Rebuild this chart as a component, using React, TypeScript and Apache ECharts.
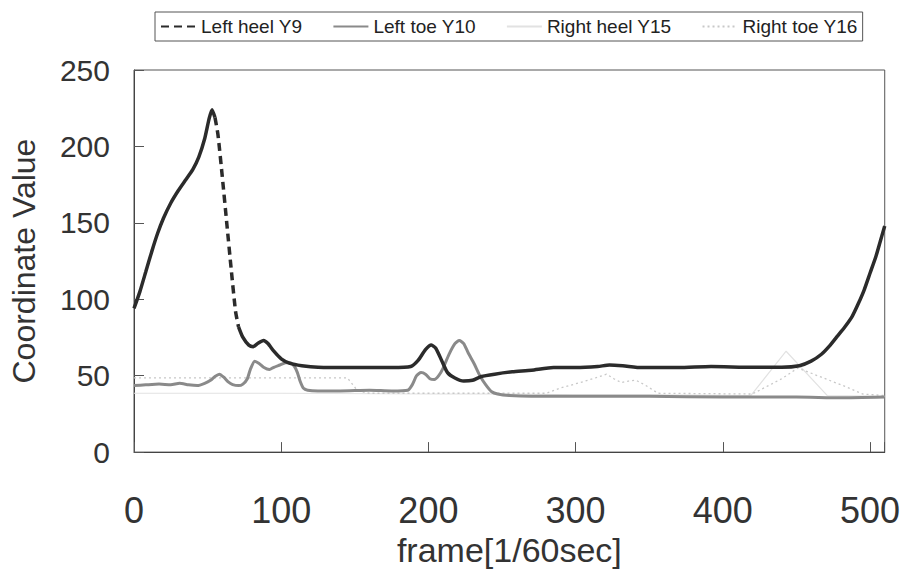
import React, { useEffect, useRef } from "react";
import * as echarts from "echarts";

const seriesNames = ["Left heel Y9", "Left toe Y10", "Right heel Y15", "Right toe Y16"];
const xTicks = [0, 100, 200, 300, 400, 500];
const yTicks = [0, 50, 100, 150, 200, 250];

// Left heel Y9: [frame, value]
const leftHeelY9: [number, number][] = [
  [0, 94], [4, 105], [8, 118], [12, 131], [16, 143], [20, 153], [25, 163], [30, 171], [35, 178],
  [40, 185], [44, 193], [48, 205], [51, 218], [53, 224], [55, 219], [57, 208], [60, 180], [63, 150],
  [66, 120], [69, 92], [71, 82], [74, 75], [78, 70], [81, 69], [84, 71], [88, 73], [91, 71], [95, 66],
  [100, 61], [106, 58], [114, 56.5], [125, 55.5], [150, 55.3], [175, 55.3], [188, 56], [193, 60],
  [198, 67], [202, 70], [205, 68], [209, 60], [213, 52], [218, 48.5], [224, 46.5], [230, 47],
  [236, 49.5], [245, 51], [257, 52.5], [270, 53.5], [285, 55.3], [300, 55.3], [315, 56], [323, 57],
  [332, 56.5], [345, 55.3], [370, 55.3], [392, 56], [420, 55.5], [440, 55.5], [452, 56.5], [460, 59.5],
  [467, 64], [473, 70], [478, 76], [483, 82], [488, 89], [492, 97], [496, 106], [500, 117], [504, 128],
  [507, 138], [510, 148],
];
// frames of the dashed (fast-drop) part of Left heel Y9
const heelDashFrom = 55;
const heelDashTo = 71;

const leftToeY10: [number, number][] = [
  [0, 43.5], [8, 44], [17, 44.5], [25, 44], [31, 45], [37, 44], [43, 43.5], [48, 45], [52, 47],
  [55, 49.5], [58, 51], [61, 49], [64, 46], [67, 44.2], [71, 43.5], [74, 44.5], [77, 48], [79, 54],
  [82, 59.5], [85, 58], [88, 55.5], [92, 54], [95, 55.5], [99, 57], [103, 58.5], [106, 58.5],
  [109, 56], [111, 52], [113, 46], [115, 42], [118, 40.5], [125, 40], [140, 40], [160, 40.5],
  [175, 40], [186, 40.5], [189, 44], [192, 50], [195, 52], [198, 51], [201, 48], [204, 47.5],
  [207, 50], [210, 55], [214, 64], [218, 71], [221, 73], [224, 71], [227, 65], [231, 58], [235, 50],
  [239, 44], [243, 39.5], [247, 38], [255, 37], [270, 36.5], [300, 36.5], [350, 36.5], [400, 36],
  [450, 36], [480, 35.5], [510, 36],
];

const rightHeelY15: [number, number][] = [
  [0, 38.5], [100, 38.5], [200, 38], [260, 38], [300, 37.5], [350, 37.5], [419, 37], [443, 66],
  [471, 37], [510, 36.5],
];

const rightToeY16: [number, number][] = [
  [0, 48.5], [40, 48.5], [80, 48.5], [120, 48.5], [145, 48.5], [152, 40], [160, 38.5], [280, 38.5],
  [290, 42], [305, 46], [315, 49], [321, 51], [326, 48], [331, 45.5], [336, 46.5], [341, 47],
  [347, 44], [356, 38.5], [420, 38], [440, 48], [451, 55], [467, 49], [483, 43], [495, 38], [510, 37],
];

const SANS = "'Liberation Sans', Arial, sans-serif";

export default function App() {
  const ref = useRef<HTMLDivElement>(null);
  useEffect(() => {
    if (!ref.current) return;
    const chart = echarts.init(ref.current, null, { renderer: "svg" });

    const heelSolid = leftHeelY9.map(([f, v]) =>
      f > heelDashFrom && f < heelDashTo ? [f, null] : [f, v]
    );
    const heelDashed = leftHeelY9.filter(([f]) => f >= heelDashFrom && f <= heelDashTo);

    chart.setOption({
      animation: false,
      backgroundColor: "#ffffff",
      grid: {
        left: 132,
        right: 17,
        top: 70,
        bottom: 113,
        show: true,
        borderColor: "#555",
        borderWidth: 1,
      },
      legend: {
        data: seriesNames,
        left: 155,
        top: 12,
        padding: [5, 5, 5, 5],
        borderColor: "#555",
        borderWidth: 1,
        itemWidth: 35,
        itemHeight: 12,
        itemGap: 30,
        itemStyle: { color: "transparent", borderWidth: 0, opacity: 0 },
        textStyle: { fontSize: 19, color: "#222", fontFamily: SANS },
      },
      xAxis: {
        type: "value",
        min: 0,
        max: 510,
        interval: 100,
        name: "frame[1/60sec]",
        nameLocation: "middle",
        nameGap: 80,
        nameTextStyle: { fontSize: 34, color: "#333", fontFamily: SANS },
        axisLine: { show: true, lineStyle: { color: "#444", width: 1 } },
        axisTick: { show: true, inside: true, length: 10, lineStyle: { color: "#555" } },
        axisLabel: {
          fontSize: 36,
          color: "#333",
          margin: 40,
          fontFamily: SANS,
          customValues: xTicks,
        },
        splitLine: { show: false },
      },
      yAxis: {
        type: "value",
        min: 0,
        max: 250,
        interval: 50,
        name: "Coordinate Value",
        nameLocation: "middle",
        nameGap: 94,
        nameTextStyle: { fontSize: 32, color: "#333", fontFamily: SANS },
        axisLine: { show: true, lineStyle: { color: "#444", width: 1 } },
        axisTick: { show: true, inside: true, length: 10, lineStyle: { color: "#555" } },
        axisLabel: {
          fontSize: 30,
          color: "#333",
          margin: 24,
          fontFamily: SANS,
          customValues: yTicks,
        },
        splitLine: { show: false },
      },
      series: [
        {
          name: seriesNames[0],
          type: "line",
          data: heelDashed,
          showSymbol: false,
          symbol: "none",
          smooth: 0.2,
          lineStyle: { color: "#2b2b2b", width: 3.5, type: [8, 5] },
          itemStyle: { color: "#2b2b2b" },
          z: 5,
        },
        {
          name: seriesNames[0],
          type: "line",
          data: heelSolid,
          showSymbol: false,
          symbol: "none",
          smooth: 0.2,
          connectNulls: false,
          lineStyle: { color: "#2b2b2b", width: 3.5 },
          itemStyle: { color: "#2b2b2b" },
          z: 5,
        },
        {
          name: seriesNames[1],
          type: "line",
          data: leftToeY10,
          showSymbol: false,
          symbol: "none",
          smooth: 0.2,
          lineStyle: { color: "#8a8a8a", width: 3 },
          itemStyle: { color: "#8a8a8a" },
          z: 4,
        },
        {
          name: seriesNames[2],
          type: "line",
          data: rightHeelY15,
          showSymbol: false,
          symbol: "none",
          lineStyle: { color: "#e2e2e2", width: 1.2 },
          itemStyle: { color: "#e2e2e2" },
          z: 2,
        },
        {
          name: seriesNames[3],
          type: "line",
          data: rightToeY16,
          showSymbol: false,
          symbol: "none",
          lineStyle: { color: "#c8c8c8", width: 1.3, type: [2, 3] },
          itemStyle: { color: "#c8c8c8" },
          z: 3,
        },
      ],
    });
    return () => chart.dispose();
  }, []);

  return (
    <div
      ref={ref}
      style={{ position: "fixed", left: 0, top: 0, width: 903, height: 572, background: "#fff" }}
    />
  );
}
